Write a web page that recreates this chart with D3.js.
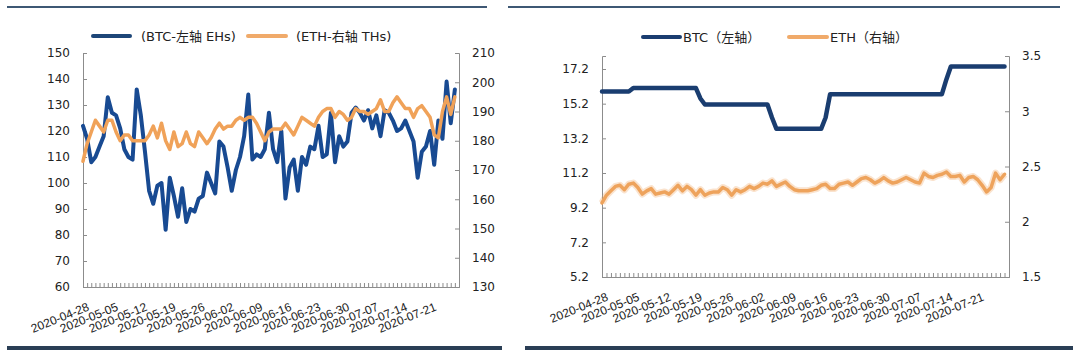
<!DOCTYPE html>
<html>
<head>
<meta charset="utf-8">
<script src="https://cdn.jsdelivr.net/npm/d3@7"></script>
<style>
  body { margin: 0; background: #fff; }
  text { font-family: "DejaVu Sans", "Noto Sans CJK SC", sans-serif; fill: #222; }
</style>
</head>
<body>
<script>
// daily dates, 2020-04-28 .. 2020-07-27
const start = new Date(2020, 3, 28);
const end = new Date(2020, 6, 28);
const days = d3.timeDay.range(start, end);
const tickLabels = ["2020-04-28","2020-05-05","2020-05-12","2020-05-19","2020-05-26","2020-06-02",
  "2020-06-09","2020-06-16","2020-06-23","2020-06-30","2020-07-07","2020-07-14","2020-07-21"];

// left chart: hashrate, BTC EH/s (left axis), ETH TH/s (right axis)
const btcHash = [122,117,108,110,114,118,133,127,126,121,113,110,109,136,126,112,97,92,99,100,
  82,102,95,87,98,85,90,89,94,95,104,100,96,116,114,106,97,105,110,118,
  134,109,111,110,113,127,113,108,120,94,106,109,97,110,107,114,113,122,110,111,
  127,108,118,114,116,127,129,127,124,128,121,126,118,128,127,124,120,121,124,120,
  116,102,112,114,120,107,124,117,139,123,136];
const ethHash = [173,179,183,187,185,183,187,187,183,180,182,182,180,180,180,180,182,185,181,186,
  180,177,183,178,179,183,179,178,183,181,179,181,184,186,184,185,185,187,188,187,
  188,188,186,183,180,183,184,184,184,186,184,182,185,188,187,186,185,188,190,191,
  191,188,190,189,187,188,191,190,190,189,190,191,194,190,190,193,195,193,191,191,
  188,191,192,190,188,182,181,190,195,189,195];

// right chart: BTC (left axis), ETH (right axis)
const btcRight = [15.9,15.9,15.9,15.9,15.9,15.9,15.9,16.1,16.1,16.1,16.1,16.1,16.1,16.1,16.1,16.1,16.1,16.1,16.1,16.1,
  16.1,16.1,15.5,15.15,15.15,15.15,15.15,15.15,15.15,15.15,15.15,15.15,15.15,15.15,15.15,15.15,15.15,15.15,14.4,13.75,
  13.75,13.75,13.75,13.75,13.75,13.75,13.75,13.75,13.75,13.75,14.4,15.75,15.75,15.75,15.75,15.75,15.75,15.75,15.75,15.75,
  15.75,15.75,15.75,15.75,15.75,15.75,15.75,15.75,15.75,15.75,15.75,15.75,15.75,15.75,15.75,15.75,15.75,16.6,17.35,17.35,
  17.35,17.35,17.35,17.35,17.35,17.35,17.35,17.35,17.35,17.35,17.35];
const ethRight = [2.17,2.24,2.28,2.32,2.33,2.29,2.34,2.35,2.31,2.25,2.28,2.30,2.25,2.26,2.27,2.25,2.29,2.33,2.28,2.32,
  2.29,2.24,2.29,2.24,2.26,2.27,2.27,2.31,2.29,2.24,2.29,2.27,2.29,2.32,2.30,2.32,2.35,2.34,2.37,2.32,
  2.34,2.36,2.32,2.29,2.28,2.28,2.28,2.29,2.30,2.33,2.34,2.30,2.30,2.34,2.35,2.36,2.33,2.36,2.39,2.40,
  2.38,2.35,2.37,2.40,2.37,2.35,2.36,2.38,2.40,2.38,2.36,2.35,2.44,2.41,2.40,2.42,2.43,2.45,2.41,2.41,
  2.42,2.36,2.40,2.41,2.38,2.33,2.27,2.31,2.44,2.38,2.43];

const w = 1080, h = 350;
const parse = d3.timeParse("%Y-%m-%d");
const axisColor = "#8c8c8c";

const svg = d3.select("body").append("svg")
  .attr("width", w)
  .attr("height", h);

// frame lines
svg.append("rect").attr("x", 7).attr("y", 6).attr("width", 480).attr("height", 2).attr("fill", "#3e5874");
svg.append("rect").attr("x", 508).attr("y", 6).attr("width", 552).attr("height", 2).attr("fill", "#3e5874");
svg.append("rect").attr("x", 7).attr("y", 346).attr("width", 495).attr("height", 4).attr("fill", "#2a3e55");
svg.append("rect").attr("x", 525).attr("y", 346).attr("width", 548).attr("height", 4).attr("fill", "#2a3e55");

function panel(opt) {
  const g = svg.append("g");
  const x = d3.scaleTime().domain([start, end]).range([opt.left, opt.right]);
  const yL = d3.scaleLinear().domain(opt.yLDomain).range([opt.bottom, opt.top]);
  const yR = d3.scaleLinear().domain(opt.yRDomain).range([opt.bottom, opt.top]);

  // left axis
  const axL = g.append("g")
    .attr("transform", "translate(" + opt.left + ",0)")
    .call(d3.axisRight(yL).tickValues(opt.yLTicks).tickSize(4).tickFormat(opt.yLFormat));
  axL.selectAll("text").attr("x", -13).attr("text-anchor", "end");

  // right axis
  const axR = g.append("g")
    .attr("transform", "translate(" + opt.right + ",0)")
    .call(d3.axisLeft(yR).tickValues(opt.yRTicks).tickSize(4).tickFormat(opt.yRFormat));
  axR.selectAll("text").attr("x", 13).attr("text-anchor", "start");

  // bottom axis, daily minor ticks
  const axB = g.append("g")
    .attr("transform", "translate(0," + opt.bottom + ")")
    .call(d3.axisTop(x).ticks(d3.timeDay.every(1)).tickSize(4).tickFormat(""));

  [axL, axR, axB].forEach(function(a) {
    a.selectAll("path.domain").attr("stroke", axisColor);
    a.selectAll(".tick line").attr("stroke", axisColor);
    a.selectAll("text").style("font-size", "12px").attr("fill", "#222")
      .style("font-family", "DejaVu Sans, sans-serif");
  });

  g.selectAll(".xlab")
    .data(tickLabels)
    .enter()
    .append("text")
    .attr("class", "xlab")
    .attr("text-anchor", "end")
    .attr("transform", function(d) {
      return "translate(" + (x(parse(d)) + 7) + "," + (opt.bottom + 23) + ") rotate(-22)";
    })
    .style("font-size", "12px")
    .style("font-family", "Liberation Sans, Arial, sans-serif")
    .text(function(d) { return d; });

  const lineL = d3.line().x(function(d, i) { return x(days[i]); }).y(function(d) { return yL(d); });
  const lineR = d3.line().x(function(d, i) { return x(days[i]); }).y(function(d) { return yR(d); });

  if (opt.halo) {
    g.append("path").datum(opt.rData).attr("d", lineR)
      .attr("fill", "none").attr("stroke", opt.rColor).attr("stroke-opacity", 0.3)
      .attr("stroke-width", 7).attr("stroke-linejoin", "round");
  }
  const drawOrder = opt.leftOnTop ? ["r", "l"] : ["l", "r"];
  drawOrder.forEach(function(k) {
    if (k === "l") {
      g.append("path").datum(opt.lData).attr("d", lineL)
        .attr("fill", "none").attr("stroke", opt.lColor).attr("stroke-width", opt.lWidth)
        .attr("stroke-linejoin", "round").attr("stroke-linecap", "round");
    } else {
      g.append("path").datum(opt.rData).attr("d", lineR)
        .attr("fill", "none").attr("stroke", opt.rColor).attr("stroke-width", opt.rWidth)
        .attr("stroke-linejoin", "round").attr("stroke-linecap", "round");
    }
  });

  // legend
  const lg = g.append("g").attr("transform", "translate(0," + opt.legendY + ")");
  opt.legend.forEach(function(item) {
    lg.append("line").attr("x1", item.x1).attr("x2", item.x2).attr("y1", 0).attr("y2", 0)
      .attr("stroke", item.color).attr("stroke-width", 4).attr("stroke-linecap", "round");
    lg.append("text").attr("x", item.tx).attr("y", 0).attr("dy", "0.35em")
      .style("font-size", "13px")
      .style("font-family", "DejaVu Sans, Noto Sans CJK SC, sans-serif")
      .text(item.label);
  });
}

panel({
  left: 83, right: 459, top: 53, bottom: 287,
  yLDomain: [60, 150], yRDomain: [130, 210],
  yLTicks: d3.range(60, 151, 10), yRTicks: d3.range(130, 211, 10),
  yLFormat: d3.format("d"), yRFormat: d3.format("d"),
  lData: btcHash, rData: ethHash,
  lColor: "#184a92", rColor: "#f0a259", lWidth: 4, rWidth: 3.5,
  leftOnTop: false, halo: false,
  legendY: 36,
  legend: [
    { x1: 93, x2: 130, tx: 141, color: "#1d4678", label: "(BTC-左轴 EHs)" },
    { x1: 248, x2: 286, tx: 296, color: "#f0aa6a", label: "(ETH-右轴 THs)" }
  ]
});

panel({
  left: 602, right: 1009, top: 56, bottom: 277,
  yLDomain: [5.2, 17.95], yRDomain: [1.5, 3.5],
  yLTicks: [5.2, 7.2, 9.2, 11.2, 13.2, 15.2, 17.2], yRTicks: [1.5, 2, 2.5, 3, 3.5],
  yLFormat: d3.format(".1f"), yRFormat: function(d) { return String(d); },
  lData: btcRight, rData: ethRight,
  lColor: "#1a3d70", rColor: "#eea35c", lWidth: 4.5, rWidth: 3.5,
  leftOnTop: true, halo: true,
  legendY: 37,
  legend: [
    { x1: 643, x2: 680, tx: 683, color: "#1a3d70", label: "BTC（左轴）" },
    { x1: 789, x2: 827, tx: 830, color: "#f0aa6a", label: "ETH（右轴）" }
  ]
});
</script>
</body>
</html>
